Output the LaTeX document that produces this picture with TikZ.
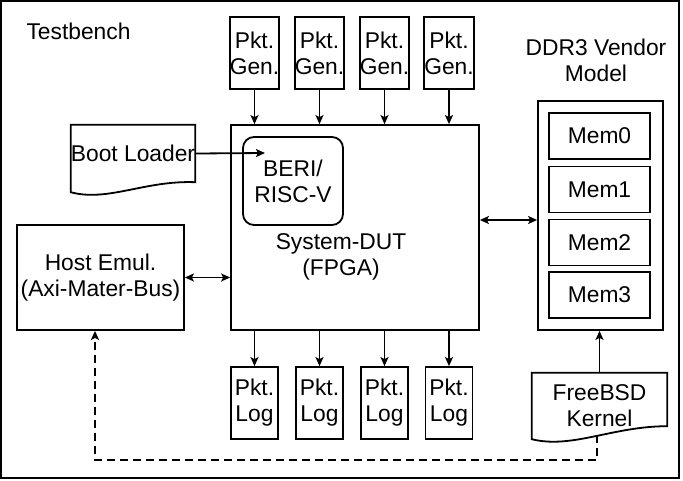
\documentclass[tikz,border=0pt]{standalone}
\usepackage{fontspec}
\setmainfont{Liberation Sans}
\usetikzlibrary{arrows.meta,calc}
\begin{document}
\begin{tikzpicture}[x=1pt,y=-1pt,
  every node/.style={font=\fontsize{22.8}{26}\selectfont, align=center, inner sep=0pt},
  box/.style={draw, line width=1.8pt},
  arr/.style={line width=1.8pt, -{Stealth[length=9pt,width=8pt,inset=2pt]}},
  darr/.style={line width=1.8pt, {Stealth[length=9pt,width=8pt,inset=2pt]}-{Stealth[length=9pt,width=8pt,inset=2pt]}},
  dasharr/.style={arr, dash pattern=on 8pt off 5pt},
  pktbox/.style={box, minimum width=47pt, minimum height=72pt},
  membox/.style={box, minimum width=101pt, minimum height=46pt}
]
\useasboundingbox (0,0) rectangle (683,480);
\draw[line width=2.4pt] (1.2,1.2) rectangle (679,477.8);

\node (tb) at (78.5,31) {Testbench};

\foreach \i/\x in {1/254.5,2/319.5,3/384.5,4/449} {
  \node[pktbox] (gen\i) at (\x,53) {Pkt.\\Gen.};
  \node[pktbox] (log\i) at (\x,403) {Pkt.\\Log};
}

\node[box, minimum width=248pt, minimum height=205pt] (dut) at (355,227.5) {};
\node (dutl) at (341,257) {System-DUT\\(FPGA)};
\node[box, rounded corners=11pt, minimum width=100pt, minimum height=88pt] (beri) at (293,181) {BERI/\\RISC-V};

\node[box, minimum width=167pt, minimum height=105pt] (host) at (100.5,277.5) {Host Emul.\\(Axi-Mater-Bus)};

\node (ddrl) at (596,60) {DDR3 Vendor\\Model};
\node[box, minimum width=125pt, minimum height=229pt] (ddr) at (600.5,215.5) {};
\foreach \i/\y in {0/136,1/189.5,2/242.5,3/295}
  \node[membox] (mem\i) at (599.5,\y) {Mem\i};

\node[minimum width=124pt, minimum height=57pt] (boot) at (133,153.5) {Boot Loader};
\draw[box] (boot.north west) -- (boot.north east) -- (boot.south east)
  .. controls ($(boot.south west)+(74,-2)$) and ($(boot.south west)+(37,20)$) .. ($(boot.south west)+(0,10)$) -- cycle;

\node[minimum width=135pt, minimum height=66pt] (kernel) at (599.5,406) {FreeBSD\\Kernel};
\draw[box] (kernel.north west) -- (kernel.north east) -- ($(kernel.south east)+(0,-13)$)
  .. controls ($(kernel.south west)+(81,-13)$) and ($(kernel.south west)+(40,10)$) .. (kernel.south west) -- cycle;

\foreach \i in {1,...,4} {
  \draw[arr] (gen\i.south) -- (gen\i.south |- dut.north);
  \draw[arr] (log\i.north |- dut.south) -- (log\i.north);
}

\coordinate (beriin) at (265,153);
\draw[arr] (boot.east) -- (beriin);

\draw[darr] (host.east) -- (host.east -| dut.west);
\coordinate (ddrlink) at (500,220);
\draw[darr] (dut.east |- ddrlink) -- (ddr.west |- ddrlink);

\draw[arr] (kernel.north) -- (kernel.north |- ddr.south);

\coordinate (kout) at (597,435);
\coordinate (dashy) at (0,460);
\coordinate (hin) at ($(host.south)+(-5.5,0)$);
\draw[dasharr] (kout) -- (kout |- dashy) -| (hin);
\end{tikzpicture}
\end{document}
